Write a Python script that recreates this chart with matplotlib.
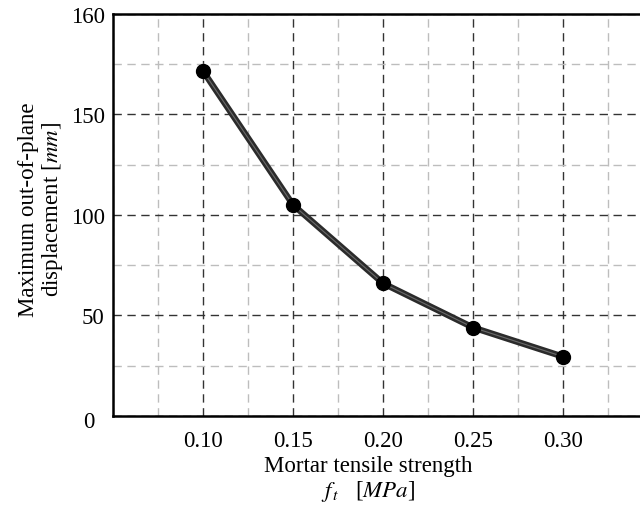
import matplotlib
matplotlib.use("Agg")
import matplotlib.pyplot as plt
import matplotlib.transforms as mtransforms
from matplotlib.ticker import MultipleLocator

plt.rcParams['font.family'] = ['Liberation Serif', 'DejaVu Serif']
plt.rcParams['mathtext.fontset'] = 'stix'

# data
ft = [0.10, 0.15, 0.20, 0.25, 0.30]
disp = [171.6, 105.0, 66.0, 44.0, 29.5]

x_ticks = [0.10, 0.15, 0.20, 0.25, 0.30]
x_tick_labels = ['0.10', '0.15', '0.20', '0.25', '0.30']
y_ticks = [0, 50, 100, 150, 200]
y_tick_labels = ['0', '50', '100', '150', '160']

fig = plt.figure(figsize=(6.4, 5.1), dpi=100)
ax = fig.add_axes([0.1766, 0.1824, 0.844, 0.7882])

ax.plot(ft, disp, color='#2b2b2b', lw=4.5, solid_capstyle='round', zorder=3)
ax.plot(ft, disp, color='#6a6a6a', lw=0.8, zorder=3)
ax.plot(ft, disp, 'o', color='black', ms=10, zorder=4)

ax.set_xlim(0.05, 0.35)
ax.set_ylim(0, 200)
ax.set_xticks(x_ticks)
ax.set_xticklabels(x_tick_labels)
ax.set_yticks(y_ticks)
ax.set_yticklabels(y_tick_labels)
ax.xaxis.set_minor_locator(MultipleLocator(0.025))
ax.yaxis.set_minor_locator(MultipleLocator(25))

ax.grid(which='major', color='#333333', linestyle=(0, (6, 4)), lw=1.0)
ax.grid(which='minor', color='#bdbdbd', linestyle=(0, (6, 4)), lw=1.0)
ax.set_axisbelow(True)

ax.tick_params(which='both', length=0, labelsize=16.5)
ax.tick_params(axis='x', pad=10)
ax.tick_params(axis='y', pad=6)
for s in ax.spines.values():
    s.set_linewidth(1.8)

# the "0" label sits a bit lower and further left in the original
zero_lbl = ax.get_yticklabels()[0]
zero_lbl.set_transform(zero_lbl.get_transform() +
                       mtransforms.ScaledTranslation(-10 / 100, -3 / 100, fig.dpi_scale_trans))

ax.set_xlabel("Mortar tensile strength\n$f_{\\,t}$   [$MPa$]", fontsize=16.5, linespacing=1.1)
ax.set_ylabel("Maximum out-of-plane\ndisplacement [$mm$]", fontsize=16.5, linespacing=1.05)
ax.xaxis.set_label_coords(0.472, -0.097)
ax.yaxis.set_label_coords(-0.089, 0.515)

fig.savefig("out.png", dpi=100)
